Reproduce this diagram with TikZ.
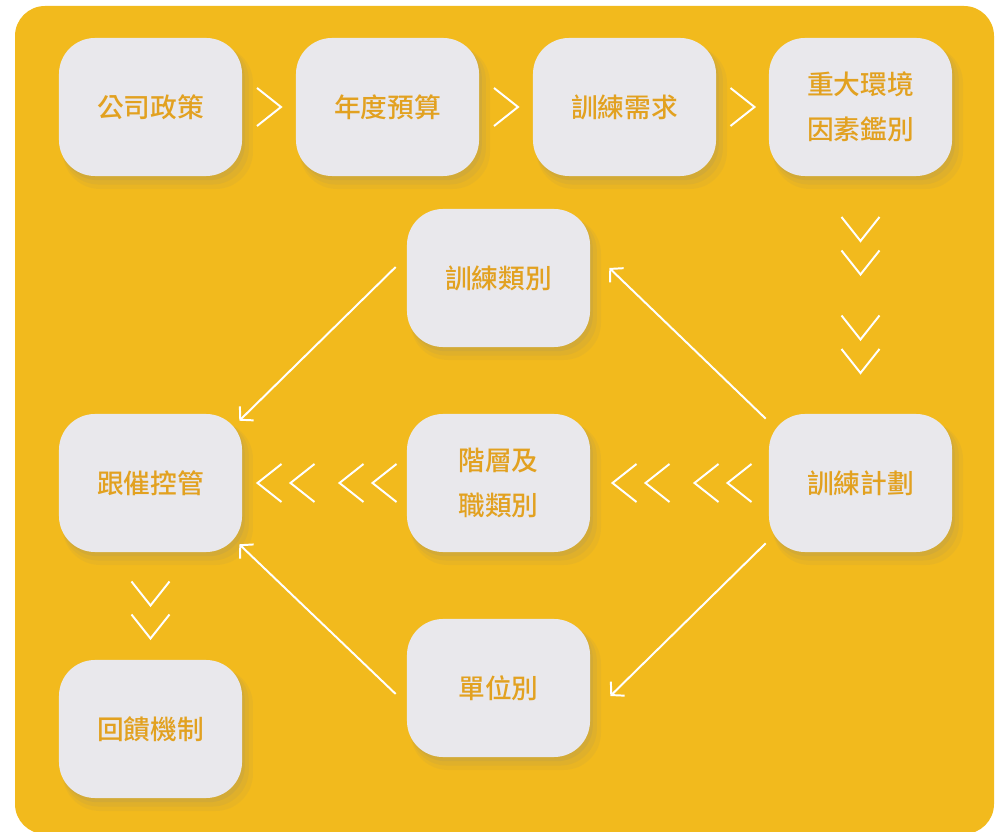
\documentclass[tikz,border=0pt]{standalone}
\usepackage{fontspec}
\IfFontExistsTF{Noto Sans CJK TC Medium}
  {\newfontfamily\cjk{Noto Sans CJK TC}[BoldFont={Noto Sans CJK TC Medium}]}
  {\newfontfamily\cjk{Noto Sans CJK TC}[BoldFont={Noto Sans CJK TC Bold}]}
\usetikzlibrary{calc,arrows.meta,shadows}
\definecolor{panelgold}{RGB}{242,186,29}
\definecolor{boxgray}{RGB}{233,232,236}
\definecolor{textgold}{RGB}{226,161,32}
\begin{document}
\begin{tikzpicture}[x=0.025cm, y=-0.025cm,
  stepbox/.style={fill=boxgray, rounded corners=0.9cm, minimum width=4.575cm, minimum height=3.45cm,
    inner sep=0pt, align=center, text=textgold, font=\cjk\bfseries\fontsize{19pt}{32pt}\selectfont,
    drop shadow={shadow xshift=5pt, shadow yshift=-7pt, shadow scale=1.04, opacity=.07},
    drop shadow={shadow xshift=3.5pt, shadow yshift=-5pt, shadow scale=1.02, opacity=.09},
    drop shadow={shadow xshift=2pt, shadow yshift=-3pt, opacity=.12}},
  flowarrow/.style={draw=white, line width=1.4pt, -{Straight Barb[length=6.5pt,width=14pt]}},
  chevline/.style={draw=white, line width=1.4pt},
  chev/.pic={\draw[chevline] (-12,-19) -- (12,0) -- (-12,19);}]
\fill[white] (0,0) rectangle (1002,832);
\useasboundingbox (0,0) rectangle (1002,832);
\fill[panelgold, rounded corners=0.75cm] (15,6) rectangle (994,834);

% top row
\node[stepbox] (policy) at (150.5,107) {公司政策};
\node[stepbox] (budget) at (387.5,107) {年度預算};
\node[stepbox] (needs) at (624.5,107) {訓練需求};
\node[stepbox] (factors) at (860.5,107) {重大環境\\因素鑑別};
% middle
\node[stepbox] (kind) at (498.5,278) {訓練類別};
\node[stepbox] (follow) at (150.5,483) {跟催控管};
\node[stepbox] (level) at (498.5,483) {階層及\\職類別};
\node[stepbox] (plan) at (860.5,483) {訓練計劃};
\node[stepbox] (unit) at (498.5,688) {單位別};
\node[stepbox] (feedback) at (150.5,729) {回饋機制};

% chevrons
\pic at ($(policy.east)!.5!(budget.west)$) {chev};
\pic at ($(budget.east)!.5!(needs.west)$) {chev};
\pic at ($(needs.east)!.5!(factors.west)$) {chev};
\foreach \d in {-66,-32.5,32.5,66}
  \pic[rotate=-90] at ($(factors.south)!.5!(plan.north)+(0,\d)$) {chev};
\foreach \d in {-55,-22,27,60} {
  \pic[rotate=180] at ($(plan.west)!.5!(level.east)+(\d,0)$) {chev};
  \pic[rotate=180] at ($(level.west)!.5!(follow.east)+(\d,0)$) {chev};
}
\foreach \d in {-12.5,20.5}
  \pic[rotate=-90] at ($(follow.south)!.5!(feedback.north)+(0,\d)$) {chev};

% arrows
\draw[flowarrow] ($(kind.west)+(-11,-11)$) -- ($(follow.north east)+(-3,7)$);
\draw[flowarrow] ($(plan.north west)+(-3,5)$) -- ($(kind.east)+(19,-10)$);
\draw[flowarrow] ($(unit.west)+(-11,6)$) -- ($(follow.south east)+(-3,-8)$);
\draw[flowarrow] ($(plan.south west)+(-3,-9)$) -- ($(unit.east)+(20,8)$);
\end{tikzpicture}
\end{document}
